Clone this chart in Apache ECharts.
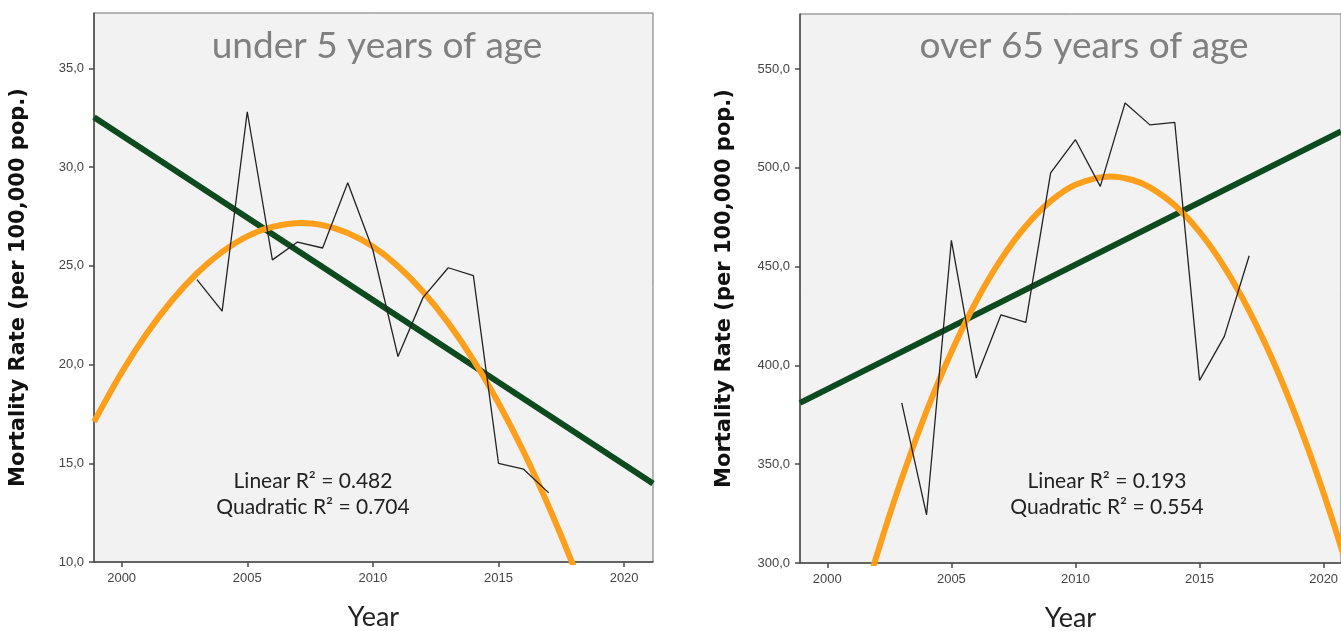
<!DOCTYPE html>
<html>
<head>
<meta charset="utf-8">
<script src="https://cdn.jsdelivr.net/npm/echarts@6/dist/echarts.min.js"></script>
<style>
html,body{margin:0;padding:0;background:#fff;}
#chart{width:1341px;height:631px;}
</style>
</head>
<body>
<div id="chart"></div>
<script>
// ---- data ----
const years = [2003, 2004, 2005, 2006, 2007, 2008, 2009, 2010, 2011, 2012, 2013, 2014, 2015, 2016, 2017];
const under5Rate = [24.3, 22.7, 32.8, 25.3, 26.2, 25.9, 29.2, 25.8, 20.4, 23.4, 24.9, 24.5, 15.0, 14.7, 13.5];
const over65Rate = [381.0, 324.4, 463.3, 393.6, 425.6, 421.8, 497.4, 514.2, 490.6, 532.8, 521.7, 523.0, 392.4, 414.7, 455.5];

// linear fit lines (end points)
const under5LinearX = [1998.9, 2021.15];
const under5LinearY = [32.52, 13.98];
const over65LinearX = [1998.9, 2020.7];
const over65LinearY = [381.0, 518.4];

// quadratic fit curves (incl. the vertex)
const under5QuadX = [1998.9, 2000, 2001, 2002, 2003, 2004, 2005, 2006, 2007.15, 2008, 2009, 2010, 2011, 2012, 2013, 2014, 2015, 2016, 2017, 2018, 2019];
const under5QuadY = [17.10, 19.60, 21.57, 23.24, 24.62, 25.70, 26.49, 26.97, 27.17, 27.06, 26.66, 25.97, 24.98, 23.69, 22.11, 20.23, 18.05, 15.58, 12.81, 9.75, 6.39];
const over65QuadX = [2001, 2002, 2003, 2004, 2005, 2006, 2007, 2008, 2009, 2010, 2011.4, 2012.3, 2013, 2014, 2015, 2016, 2017, 2018, 2019, 2020, 2021, 2022];
const over65QuadY = [261.2, 304.1, 342.7, 376.9, 406.8, 432.4, 453.6, 470.5, 483.1, 491.4, 495.6, 493.8, 490.1, 481.0, 467.5, 449.7, 427.6, 401.2, 370.4, 335.3, 295.9, 252.2];

// tick labels
const xTicks = [2000, 2005, 2010, 2015, 2020];
const under5YTicks = [10, 15, 20, 25, 30, 35];
const over65YTicks = [300, 350, 400, 450, 500, 550];

const titles = ['under 5 years of age', 'over 65 years of age'];
const fitLabels = [
  ['Linear R\u00B2 = 0.482', 'Quadratic R\u00B2 = 0.704'],
  ['Linear R\u00B2 = 0.193', 'Quadratic R\u00B2 = 0.554']
];

// ---- styling ----
const GREEN = '#0d4b1e';
const ORANGE = '#fd9f1b';
const AXIS = '#4a4a4a';
const calib = 'Lato, "Open Sans", sans-serif';
const tickFont = '"Liberation Sans", Arial, sans-serif';

const pairs = (xs, ys) => xs.map((x, i) => [x, ys[i]]);
const fmt = v => v.toFixed(1).replace('.', ',');

function xAxis(gi, min, max) {
  return {
    type: 'value', gridIndex: gi, min: min, max: max,
    name: 'Year', nameLocation: 'middle', nameGap: 42,
    nameTextStyle: {fontFamily: calib, fontSize: 27, color: '#222'},
    axisLine: {show: true, lineStyle: {color: AXIS, width: 1.5}},
    axisTick: {show: true, length: 5, lineStyle: {color: AXIS, width: 1.5}, customValues: xTicks},
    axisLabel: {customValues: xTicks, margin: 10, fontFamily: tickFont, fontSize: 13, color: '#444', formatter: v => String(v)},
    splitLine: {show: false}
  };
}
function yAxis(gi, min, max, ticks, gap) {
  return {
    type: 'value', gridIndex: gi, min: min, max: max,
    name: 'Mortality Rate (per 100,000 pop.)', nameLocation: 'middle', nameGap: gap, nameRotate: 90,
    nameTextStyle: {fontFamily: '"DejaVu Sans", sans-serif', fontWeight: 'bold', fontSize: 21, color: '#111'},
    axisLine: {show: true, lineStyle: {color: AXIS, width: 1.5}},
    axisTick: {show: true, length: 5, lineStyle: {color: AXIS, width: 1.5}, customValues: ticks},
    axisLabel: {customValues: ticks, margin: 10, fontFamily: tickFont, fontSize: 13, color: '#444', formatter: fmt},
    splitLine: {show: false}
  };
}

const chart = echarts.init(document.getElementById('chart'), null, {renderer: 'canvas'});
chart.setOption({
  animation: false,
  backgroundColor: '#ffffff',
  grid: [
    {left: 94, right: 688, top: 13, bottom: 69, outerBoundsMode: 'none', containLabel: false, show: true, backgroundColor: '#f2f2f2', borderColor: '#707070', borderWidth: 1},
    {left: 800, right: 0, top: 14, bottom: 68, outerBoundsMode: 'none', containLabel: false, show: true, backgroundColor: '#f2f2f2', borderColor: '#707070', borderWidth: 1}
  ],
  xAxis: [xAxis(0, 1998.9, 2021.15), xAxis(1, 1998.9, 2020.7)],
  yAxis: [yAxis(0, 10, 37.8, under5YTicks, 65), yAxis(1, 300, 577.8, over65YTicks, 65)],
  series: [
    {type: 'line', xAxisIndex: 0, yAxisIndex: 0, data: pairs(under5LinearX, under5LinearY), showSymbol: false, lineStyle: {color: GREEN, width: 6}, z: 2},
    {type: 'line', xAxisIndex: 0, yAxisIndex: 0, data: pairs(under5QuadX, under5QuadY), smooth: 0.3, showSymbol: false, lineStyle: {color: ORANGE, width: 6}, z: 3},
    {type: 'line', xAxisIndex: 0, yAxisIndex: 0, data: pairs(years, under5Rate), showSymbol: false, lineStyle: {color: '#222', width: 1.3}, z: 4},
    {type: 'line', xAxisIndex: 1, yAxisIndex: 1, data: pairs(over65LinearX, over65LinearY), showSymbol: false, lineStyle: {color: GREEN, width: 6}, z: 2},
    {type: 'line', xAxisIndex: 1, yAxisIndex: 1, data: pairs(over65QuadX, over65QuadY), smooth: 0.3, showSymbol: false, lineStyle: {color: ORANGE, width: 6}, z: 3},
    {type: 'line', xAxisIndex: 1, yAxisIndex: 1, data: pairs(years, over65Rate), showSymbol: false, lineStyle: {color: '#222', width: 1.3}, z: 4}
  ],
  graphic: [
    {type: 'text', x: 377, y: 46, z: 10, style: {text: titles[0], fontFamily: calib, fontSize: 37, fill: '#808080', textAlign: 'center', textVerticalAlign: 'middle'}},
    {type: 'text', x: 1084, y: 46, z: 10, style: {text: titles[1], fontFamily: calib, fontSize: 37, fill: '#808080', textAlign: 'center', textVerticalAlign: 'middle'}},
    {type: 'text', x: 313, y: 481, z: 10, style: {text: fitLabels[0][0], fontFamily: calib, fontSize: 21, fill: '#222', textAlign: 'center', textVerticalAlign: 'middle'}},
    {type: 'text', x: 313, y: 507, z: 10, style: {text: fitLabels[0][1], fontFamily: calib, fontSize: 21, fill: '#222', textAlign: 'center', textVerticalAlign: 'middle'}},
    {type: 'text', x: 1107, y: 481, z: 10, style: {text: fitLabels[1][0], fontFamily: calib, fontSize: 21, fill: '#222', textAlign: 'center', textVerticalAlign: 'middle'}},
    {type: 'text', x: 1107, y: 507, z: 10, style: {text: fitLabels[1][1], fontFamily: calib, fontSize: 21, fill: '#222', textAlign: 'center', textVerticalAlign: 'middle'}}
  ]
});
</script>
</body>
</html>
